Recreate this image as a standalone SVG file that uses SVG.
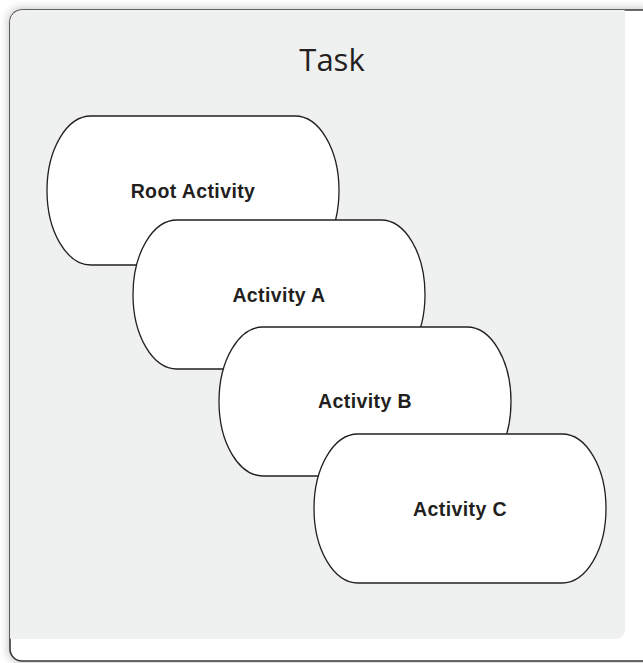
<svg xmlns="http://www.w3.org/2000/svg" width="643" height="663" viewBox="0 0 643 663">
  <style>
    .act { fill: #ffffff; stroke: #231f20; stroke-width: 1.3; }
    .lbl { font-family: "Liberation Sans", Arial, sans-serif; font-weight: bold; font-size: 19.5px; letter-spacing: 0.4px; fill: #231f20; text-anchor: middle; }
    .title { font-family: "Open Sans", "Liberation Sans", sans-serif; font-size: 31px; fill: #231f20; text-anchor: middle; }
  </style>
  <defs>
    <filter id="shadow" x="-10%" y="-10%" width="120%" height="120%">
      <feGaussianBlur stdDeviation="4"/>
    </filter>
    <path id="stadium" d="M44,0 H248 A44,74.5 0 0 1 248,149 H44 A44,74.5 0 0 1 44,0 Z"/>
    <clipPath id="panelClip">
      <rect x="10" y="10" width="660" height="651" rx="12"/>
    </clipPath>
  </defs>
  <rect x="0" y="0" width="643" height="663" fill="#ffffff"/>
  <g id="panel">
    <rect x="8" y="8" width="660" height="655" rx="13" fill="#9a9a9a" opacity="0.55" filter="url(#shadow)"/>
    <rect x="10" y="10" width="660" height="651" rx="12" fill="#ffffff" stroke="#3a3a3a" stroke-width="1.6"/>
    <g clip-path="url(#panelClip)">
      <rect x="4" y="4" width="621" height="635" rx="9" fill="#eff0f0"/>
    </g>
    <text class="title" x="332" y="71">Task</text>
  </g>
  <g id="root-activity">
    <use href="#stadium" class="act" transform="translate(47,116)"/>
    <text class="lbl" x="193" y="198">Root Activity</text>
  </g>
  <g id="activity-a">
    <use href="#stadium" class="act" transform="translate(133,220)"/>
    <text class="lbl" x="279" y="302">Activity A</text>
  </g>
  <g id="activity-b">
    <use href="#stadium" class="act" transform="translate(219,327)"/>
    <text class="lbl" x="365" y="408">Activity B</text>
  </g>
  <g id="activity-c">
    <use href="#stadium" class="act" transform="translate(314,434)"/>
    <text class="lbl" x="460" y="516">Activity C</text>
  </g>
  <g id="connectors"></g>
</svg>
